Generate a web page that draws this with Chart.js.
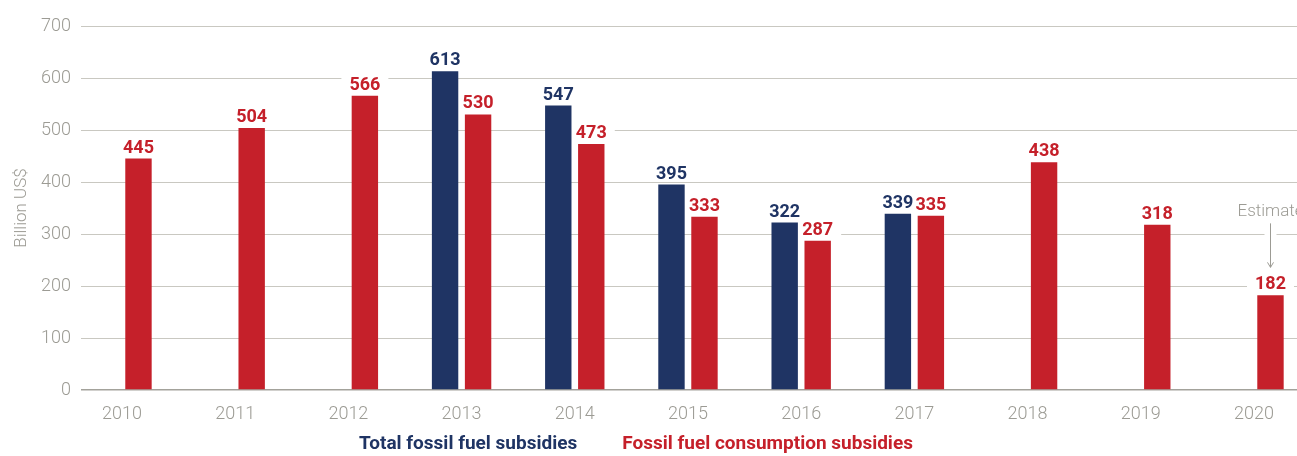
<!DOCTYPE html>
<html>
<head>
<meta charset="utf-8">
<script src="https://cdn.jsdelivr.net/npm/chart.js@4.4.1/dist/chart.umd.min.js"></script>
<style>
  html, body { margin: 0; padding: 0; background: #fff; }
  #wrap { width: 1297px; height: 456px; }
</style>
</head>
<body>
<div id="wrap"><canvas id="chart"></canvas></div>
<script>
// --- data ---
const years = [2010, 2011, 2012, 2013, 2014, 2015, 2016, 2017, 2018, 2019, 2020];
const totalSubsidies = [null, null, null, 613, 547, 395, 322, 339, null, null, null];
const consumptionSubsidies = [445, 504, 566, 530, 473, 333, 287, 335, 438, 318, 182];
const yTicks = [0, 100, 200, 300, 400, 500, 600, 700];
const seriesNames = ["Total fossil fuel subsidies", "Fossil fuel consumption subsidies"];
const yTitle = "Billion US$";
const estimateYear = 2020;
const estimateText = "Estimate";

const NAVY = "#1f3464";
const RED = "#c5202a";
const GRAY = "#9c9b94";
const GRID = "#c9c8c1";
const FONT = "Roboto, 'DejaVu Sans', sans-serif";

function toPoints(values) {
    return years.map((y, i) => ({ x: y, y: values[i] })).filter(p => p.y !== null);
}

// value labels with a white box behind them (knocks out the gridlines)
const valueLabels = {
    id: "valueLabels",
    beforeDatasetsDraw(chart) {
        const ctx = chart.ctx;
        ctx.save();
        ctx.font = "bold 18px " + FONT;
        ctx.fillStyle = "#fff";
        chart.data.datasets.forEach((ds, di) => {
            chart.getDatasetMeta(di).data.forEach((bar, i) => {
                const w = ctx.measureText(String(ds.data[i].y)).width;
                ctx.fillRect(bar.x - w / 2 - 8, bar.y - 26, w + 16, 22);
            });
        });
        ctx.restore();
    },
    afterDatasetsDraw(chart) {
        const ctx = chart.ctx;
        ctx.save();
        ctx.font = "bold 18px " + FONT;
        ctx.textAlign = "center";
        ctx.textBaseline = "alphabetic";
        chart.data.datasets.forEach((ds, di) => {
            ctx.fillStyle = ds.backgroundColor;
            chart.getDatasetMeta(di).data.forEach((bar, i) => {
                ctx.fillText(String(ds.data[i].y), bar.x, bar.y - 6);
            });
        });

        // "Estimate" note with arrow
        const di = 1;
        const idx = chart.data.datasets[di].data.findIndex(p => p.x === estimateYear);
        if (idx >= 0) {
            const bar = chart.getDatasetMeta(di).data[idx];
            const x = Math.round(bar.x) + 0.5;
            const tipY = bar.y - 28;
            const topY = tipY - 44;
            ctx.font = "300 17px " + FONT;
            const tw = ctx.measureText(estimateText).width;
            ctx.fillStyle = "#fff";
            ctx.fillRect(x - tw / 2 - 6, topY - 20, tw + 12, 22);
            ctx.fillRect(x - 6, topY, 12, tipY - topY);
            ctx.fillStyle = GRAY;
            ctx.fillText(estimateText, x, topY - 7);
            ctx.strokeStyle = GRAY;
            ctx.lineWidth = 1;
            ctx.beginPath();
            ctx.moveTo(x, topY);
            ctx.lineTo(x, tipY);
            ctx.moveTo(x - 3, tipY - 5);
            ctx.lineTo(x, tipY);
            ctx.lineTo(x + 3, tipY - 5);
            ctx.stroke();
        }
        ctx.restore();
    }
};

// text-only legend under the axis, coloured like the series
const textLegend = {
    id: "textLegend",
    afterDraw(chart) {
        const ctx = chart.ctx;
        const gap = 45;
        ctx.save();
        ctx.font = "bold 19px " + FONT;
        ctx.textBaseline = "middle";
        ctx.textAlign = "left";
        const items = chart.data.datasets.map(ds => ({ text: ds.label, color: ds.backgroundColor, w: ctx.measureText(ds.label).width }));
        const total = items.reduce((s, it) => s + it.w, 0) + gap * (items.length - 1);
        let x = 636 - total / 2;
        items.forEach(it => {
            ctx.fillStyle = it.color;
            ctx.fillText(it.text, x, 444);
            x += it.w + gap;
        });
        ctx.restore();
    }
};

new Chart(document.getElementById("chart"), {
    type: "bar",
    data: {
        datasets: [
            { label: seriesNames[0], data: toPoints(totalSubsidies), backgroundColor: NAVY },
            { label: seriesNames[1], data: toPoints(consumptionSubsidies), backgroundColor: RED }
        ]
    },
    options: {
        responsive: true,
        maintainAspectRatio: false,
        animation: false,
        categoryPercentage: 0.583,
        barPercentage: 0.8,
        layout: { padding: { top: 26, right: 0, left: 0, bottom: 30 } },
        scales: {
            x: {
                type: "linear",
                bounds: "data",
                offset: false,
                min: years[0] - 0.362,
                max: years[years.length - 1] + 0.38,
                afterBuildTicks: scale => { scale.ticks = years.map(v => ({ value: v })); },
                afterFit: scale => { scale.height = 36; },
                grid: { display: false },
                border: { display: false },
                ticks: {
                    autoSkip: false,
                    maxRotation: 0,
                    padding: 6,
                    color: GRAY,
                    font: { family: FONT, size: 18, weight: "300" },
                    callback: v => String(v)
                }
            },
            y: {
                min: 0,
                max: 700,
                afterBuildTicks: scale => { scale.ticks = yTicks.map(v => ({ value: v })); },
                afterFit: scale => { scale.width = 81; },
                grid: {
                    drawTicks: false,
                    color: ctx => ctx.tick.value === 0 ? "#a3a29b" : GRID,
                    lineWidth: ctx => ctx.tick.value === 0 ? 1.5 : 1
                },
                border: { display: false },
                ticks: {
                    padding: 10,
                    color: GRAY,
                    font: { family: FONT, size: 18, weight: "300" }
                },
                title: {
                    display: true,
                    text: yTitle,
                    color: GRAY,
                    font: { family: FONT, size: 17, weight: "300" },
                    padding: { top: 12, bottom: 0 }
                }
            }
        },
        plugins: {
            tooltip: { enabled: false },
            legend: { display: false }
        }
    },
    plugins: [valueLabels, textLegend]
});
</script>
</body>
</html>
